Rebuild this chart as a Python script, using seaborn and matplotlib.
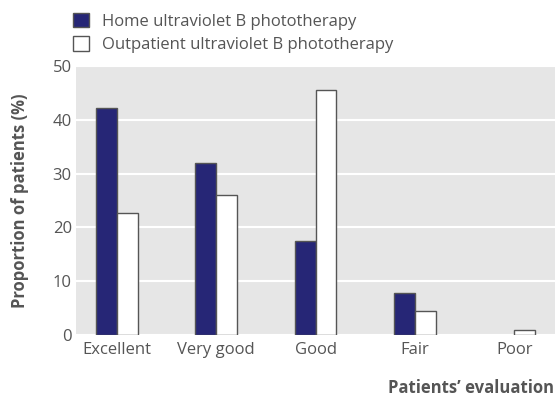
import pandas as pd
import seaborn as sns
import matplotlib.pyplot as plt
from matplotlib.patches import Patch

# 資料
categories = ['Excellent', 'Very good', 'Good', 'Fair', 'Poor']
home_uvb = [42.2, 32.0, 17.4, 7.7, 0.0]
outpatient_uvb = [22.7, 26.1, 45.5, 4.5, 1.0]
series_names = ['Home ultraviolet B phototherapy', 'Outpatient ultraviolet B phototherapy']
colors = ['#262676', 'white']

data = pd.DataFrame({
    'evaluation': categories * 2,
    'value': home_uvb + outpatient_uvb,
    'group': [series_names[0]] * len(categories) + [series_names[1]] * len(categories),
})

sns.set_style('darkgrid', {'axes.facecolor': '#e6e6e6', 'grid.color': 'white'})
plt.rcParams['font.family'] = ['Open Sans', 'DejaVu Sans']
text_gray = '#555555'

fig = plt.figure(figsize=(5.55, 4.03), dpi=100)
ax = fig.add_axes([0.137, 0.169, 0.863, 0.667])

sns.barplot(data=data, x='evaluation', y='value', hue='group', order=categories,
            hue_order=series_names, palette=colors, width=0.42,
            edgecolor='#555555', linewidth=1.0, saturation=1, gap=0,
            legend=False, ax=ax)

# 高度為 0 的柱子不畫
for p in ax.patches:
    if p.get_height() == 0:
        p.set_visible(False)

ax.set_xlim(-0.41, 4.41)
ax.set_ylim(0, 50)
ax.set_yticks([0, 10, 20, 30, 40, 50])
ax.grid(axis='x', visible=False)
ax.grid(axis='y', color='white', linewidth=1.5)
for s in ax.spines.values():
    s.set_visible(False)
ax.tick_params(axis='both', length=0, labelsize=12, labelcolor=text_gray)
ax.tick_params(axis='x', pad=5)
ax.tick_params(axis='y', pad=3)

ax.set_xlabel('')
ax.set_ylabel('Proportion of patients (%)', fontsize=12, fontweight='bold',
              color=text_gray, labelpad=17)
fig.text(0.998, 0.015, 'Patients\u2019 evaluation', ha='right', va='bottom',
         fontsize=12, fontweight='bold', color=text_gray)

handles = [Patch(facecolor=c, edgecolor='#555555', linewidth=1.0, label=n)
           for c, n in zip(colors, series_names)]
ax.legend(handles=handles, loc='upper left', bbox_to_anchor=(0.12, 0.985),
          bbox_transform=fig.transFigure, frameon=False, fontsize=12,
          labelcolor=text_gray, handlelength=0.95, handleheight=0.95,
          handletextpad=0.75, labelspacing=0.4, borderaxespad=0)

plt.savefig('out.png', dpi=100)
plt.close()
